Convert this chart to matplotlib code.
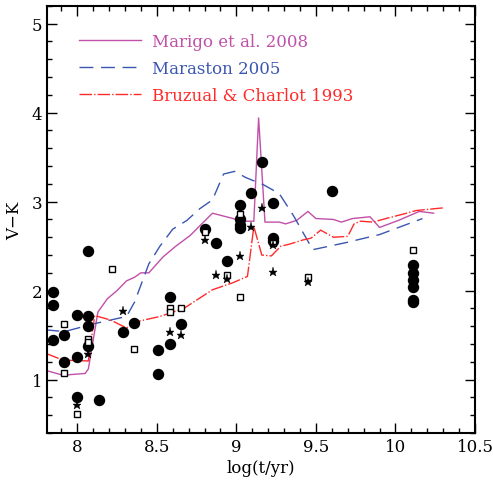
import numpy as np
import matplotlib
matplotlib.use('Agg')
import matplotlib.pyplot as plt
from matplotlib.ticker import MultipleLocator

# model tracks
marigo_x = [7.81, 7.91, 8.05, 8.07, 8.13, 8.19, 8.25, 8.31, 8.36, 8.40, 8.45, 8.54, 8.62,
            8.71, 8.85, 8.98, 9.02, 9.11, 9.14, 9.18, 9.27, 9.31, 9.38, 9.45, 9.50, 9.61,
            9.66, 9.73, 9.84, 9.90, 10.02, 10.15, 10.24]
marigo_y = [1.10, 1.05, 1.07, 1.12, 1.76, 1.91, 2.00, 2.11, 2.15, 2.20, 2.20, 2.38, 2.50,
            2.62, 2.87, 2.81, 2.78, 2.78, 3.94, 2.77, 2.77, 2.75, 2.79, 2.89, 2.81, 2.80,
            2.77, 2.81, 2.83, 2.71, 2.79, 2.89, 2.87]

maraston_x = [7.80, 7.92, 8.11, 8.31, 8.36, 8.45, 8.52, 8.60, 8.69, 8.77, 8.85, 8.92,
              8.99, 9.06, 9.17, 9.27, 9.36, 9.48, 9.69, 9.90, 10.17]
maraston_y = [1.56, 1.54, 1.63, 1.71, 1.87, 2.30, 2.50, 2.69, 2.79, 2.92, 3.02, 3.31,
              3.34, 3.27, 3.19, 3.09, 2.84, 2.46, 2.54, 2.63, 2.81]

bruzual_x = [7.81, 7.91, 8.07, 8.11, 8.21, 8.31, 8.37, 8.52, 8.67, 8.85, 8.98, 9.07, 9.11,
             9.16, 9.22, 9.28, 9.33, 9.42, 9.47, 9.53, 9.61, 9.70, 9.74, 9.78, 9.86, 9.94,
             10.07, 10.13, 10.30]
bruzual_y = [1.29, 1.22, 1.21, 1.72, 1.67, 1.58, 1.65, 1.71, 1.80, 2.01, 2.09, 2.16, 2.72,
             2.40, 2.39, 2.50, 2.52, 2.57, 2.59, 2.68, 2.60, 2.61, 2.75, 2.78, 2.77, 2.81,
             2.87, 2.90, 2.93]

# clusters
circ_x = [7.85, 7.85, 7.85, 7.92, 7.92, 8.0, 8.0, 8.0, 8.07, 8.07, 8.07, 8.07, 8.14, 8.29,
          8.36, 8.51, 8.51, 8.58, 8.58, 8.65, 8.80, 8.87, 8.94, 9.02, 9.02, 9.02, 9.02,
          9.09, 9.16, 9.23, 9.23, 9.23, 9.60,
          10.11, 10.11, 10.11, 10.11, 10.11, 10.11]
circ_y = [1.98, 1.84, 1.44, 1.50, 1.20, 1.73, 1.25, 0.80, 2.45, 1.71, 1.60, 1.38, 0.77, 1.53,
          1.64, 1.33, 1.06, 1.93, 1.40, 1.63, 2.69, 2.54, 2.33, 2.96, 2.80, 2.74, 2.70,
          3.10, 3.45, 2.99, 2.59, 2.56, 3.12,
          2.29, 2.20, 2.12, 2.04, 1.90, 1.87]

sq_x = [7.92, 7.92, 8.0, 8.07, 8.07, 8.22, 8.36, 8.58, 8.58, 8.65, 8.80, 8.94, 9.02, 9.02,
        9.23, 9.45, 10.11]
sq_y = [1.62, 1.07, 0.61, 1.46, 1.42, 2.24, 1.35, 1.80, 1.76, 1.80, 2.66, 2.18, 2.86, 1.93,
        2.53, 2.15, 2.46]

star_x = [8.0, 8.07, 8.29, 8.58, 8.65, 8.80, 8.87, 8.94, 9.02, 9.02, 9.09, 9.16, 9.23,
          9.23, 9.45]
star_y = [0.71, 1.29, 1.77, 1.53, 1.50, 2.57, 2.18, 2.13, 2.39, 2.72, 2.71, 2.93, 2.51,
          2.21, 2.10]

plt.rcParams['font.family'] = ['DejaVu Serif']

fig = plt.figure(figsize=[4.93, 4.85], dpi=100)
ax = fig.add_axes([0.0953, 0.105, 0.8682, 0.881])

ax.plot(marigo_x, marigo_y, color='#c050a8', lw=1.0, label='Marigo et al. 2008')
ax.plot(maraston_x, maraston_y, color='#3a56b0', lw=1.0, dashes=(10, 5.5),
        label='Maraston 2005')
ax.plot(bruzual_x, bruzual_y, color='#ff2a2a', lw=1.0, dashes=(9, 1.5, 1, 1.5),
        label='Bruzual & Charlot 1993')

ax.plot(circ_x, circ_y, 'o', color='black', ms=7.2, zorder=4)
ax.plot(sq_x, sq_y, 's', mfc='white', mec='black', mew=1.0, ms=5, zorder=5)
ax.plot(star_x, star_y, '*', color='black', mew=0.3, ms=6.5, zorder=5)

ax.set_xlim(7.81, 10.5)
ax.set_ylim(0.4, 5.2)
ax.xaxis.set_minor_locator(MultipleLocator(0.1))
ax.yaxis.set_major_locator(MultipleLocator(1))
ax.yaxis.set_minor_locator(MultipleLocator(0.2))
ax.set_xticks([8, 8.5, 9, 9.5, 10, 10.5])
ax.set_xticklabels(['8', '8.5', '9', '9.5', '10', '10.5'])
ax.tick_params(which='both', direction='in', top=True, right=True, labelsize=12)
ax.tick_params(which='major', length=7, width=1)
ax.tick_params(which='minor', length=3.6, width=1)
for s in ax.spines.values():
    s.set_linewidth(1.5)

ax.set_xlabel('log(t/yr)', fontsize=12, labelpad=3)
ax.set_ylabel('V\u2212K', fontsize=12, labelpad=6)

leg = ax.legend(loc='upper left', bbox_to_anchor=(0.04, 0.972), frameon=False,
                fontsize=12, handlelength=3.7, handletextpad=0.65, labelspacing=0.6,
                labelcolor='linecolor', borderaxespad=0.0, borderpad=0.9)

plt.savefig('out.png', dpi=100)
